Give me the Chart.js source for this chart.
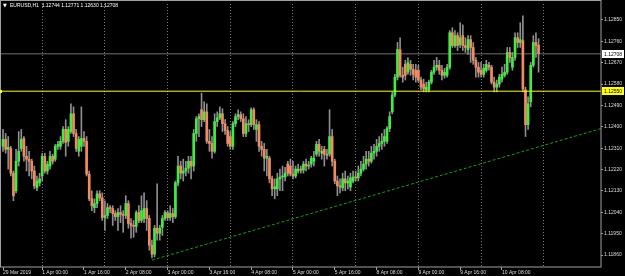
<!DOCTYPE html>
<html>
<head>
<meta charset="utf-8">
<script src="https://cdn.jsdelivr.net/npm/chart.js@4.4.1/dist/chart.umd.min.js"></script>
<style>
  html, body { margin: 0; padding: 0; background: #000; }
  #wrap { width: 625px; height: 276px; }
</style>
</head>
<body>
<div id="wrap"><canvas id="myChart" width="625" height="276"></canvas></div>
<script>
// EURUSD H1 candles, 29 Mar 2019 09:00 .. 10 Apr 2019 22:00
const symbolTitle = 'EURUSD,H1';

const opens = [
  1.12318,1.12347,1.12305,1.12309,1.12205,1.12131,1.12255,1.12309,1.12351,1.12276,
  1.12264,1.12255,1.12214,1.12143,1.12164,1.12193,1.12276,1.12214,1.12235,1.12276,
  1.12264,1.12318,1.12318,1.12339,1.12389,1.12339,1.12380,1.12455,1.12372,1.12297,
  1.12318,1.12351,1.12339,1.12201,1.12097,1.12060,1.12077,1.12118,1.12101,1.12018,
  1.12027,1.12060,1.12056,1.12035,1.12022,1.12039,1.12031,1.12027,1.12077,1.11993,
  1.11985,1.11981,1.12039,1.12006,1.12014,1.12056,1.12014,1.11902,1.11864,1.11973,
  1.11952,1.11977,1.12014,1.12039,1.12018,1.12035,1.12022,1.12164,1.12235,1.12205,
  1.12214,1.12226,1.12255,1.12235,1.12372,1.12434,1.12472,1.12430,1.12463,1.12339,
  1.12330,1.12297,1.12422,1.12438,1.12455,1.12413,1.12384,1.12359,1.12318,1.12413,
  1.12443,1.12451,1.12434,1.12372,1.12413,1.12409,1.12472,1.12389,1.12409,1.12318,
  1.12305,1.12268,1.12268,1.12181,1.12139,1.12139,1.12181,1.12189,1.12189,1.12243,
  1.12235,1.12201,1.12193,1.12214,1.12222,1.12218,1.12243,1.12235,1.12243,1.12255,
  1.12285,1.12326,1.12289,1.12305,1.12285,1.12285,1.12359,1.12255,1.12172,1.12151,
  1.12143,1.12181,1.12164,1.12147,1.12172,1.12189,1.12185,1.12205,1.12222,1.12243,
  1.12264,1.12255,1.12289,1.12297,1.12318,1.12330,1.12339,1.12339,1.12393,1.12463,
  1.12534,1.12609,1.12725,1.12617,1.12663,1.12630,1.12663,1.12642,1.12638,1.12638,
  1.12597,1.12580,1.12555,1.12555,1.12588,1.12630,1.12651,1.12659,1.12638,1.12617,
  1.12617,1.12651,1.12796,1.12742,1.12784,1.12746,1.12784,1.12742,1.12725,1.12767,
  1.12734,1.12680,1.12651,1.12638,1.12621,1.12638,1.12659,1.12651,1.12588,1.12567,
  1.12580,1.12601,1.12617,1.12630,1.12713,1.12651,1.12692,1.12775,1.12755,1.12763,
  1.12555,1.12409,1.12505,1.12659,1.12755,1.12744
];
const highs = [
  1.12389,1.12372,1.12359,1.12318,1.12214,1.12305,1.12380,1.12389,1.12359,1.12318,
  1.12297,1.12264,1.12235,1.12193,1.12205,1.12289,1.12289,1.12255,1.12297,1.12285,
  1.12326,1.12339,1.12359,1.12401,1.12430,1.12401,1.12497,1.12484,1.12389,1.12359,
  1.12484,1.12380,1.12359,1.12214,1.12131,1.12097,1.12131,1.12131,1.12122,1.12089,
  1.12077,1.12068,1.12068,1.12047,1.12056,1.12068,1.12047,1.12110,1.12089,1.12014,
  1.12006,1.12047,1.12068,1.12110,1.12122,1.12089,1.12027,1.11923,1.11985,1.12160,
  1.11985,1.12027,1.12047,1.12047,1.12068,1.12056,1.12172,1.12276,1.12255,1.12264,
  1.12255,1.12276,1.12276,1.12389,1.12443,1.12455,1.12542,1.12505,1.12497,1.12389,
  1.12359,1.12455,1.12463,1.12484,1.12476,1.12430,1.12401,1.12380,1.12422,1.12455,
  1.12472,1.12463,1.12455,1.12443,1.12430,1.12480,1.12480,1.12430,1.12422,1.12339,
  1.12330,1.12305,1.12276,1.12193,1.12181,1.12205,1.12222,1.12235,1.12230,1.12255,
  1.12264,1.12255,1.12235,1.12243,1.12235,1.12255,1.12264,1.12255,1.12276,1.12297,
  1.12339,1.12347,1.12318,1.12318,1.12305,1.12472,1.12389,1.12264,1.12193,1.12181,
  1.12205,1.12214,1.12193,1.12205,1.12214,1.12214,1.12235,1.12255,1.12276,1.12297,
  1.12297,1.12318,1.12326,1.12347,1.12359,1.12372,1.12389,1.12401,1.12463,1.12547,
  1.12621,1.12755,1.12775,1.12651,1.12680,1.12692,1.12680,1.12663,1.12663,1.12659,
  1.12609,1.12601,1.12588,1.12597,1.12638,1.12680,1.12692,1.12680,1.12659,1.12646,
  1.12663,1.12805,1.12817,1.12805,1.12796,1.12838,1.12829,1.12775,1.12784,1.12784,
  1.12755,1.12692,1.12671,1.12671,1.12663,1.12680,1.12671,1.12659,1.12609,1.12597,
  1.12621,1.12651,1.12663,1.12734,1.12734,1.12713,1.12796,1.12796,1.12838,1.12867,
  1.12567,1.12526,1.12671,1.12784,1.12796,1.12771
];
const lows = [
  1.12297,1.12289,1.12222,1.12193,1.12089,1.12122,1.12235,1.12297,1.12255,1.12214,
  1.12193,1.12181,1.12139,1.12131,1.12151,1.12172,1.12205,1.12201,1.12222,1.12243,
  1.12255,1.12305,1.12305,1.12330,1.12276,1.12318,1.12372,1.12359,1.12297,1.12276,
  1.12297,1.12318,1.12193,1.12089,1.12047,1.12039,1.12060,1.12089,1.12006,1.11964,
  1.12014,1.12039,1.11985,1.12006,1.11964,1.11997,1.11956,1.12014,1.11973,1.11931,
  1.11935,1.11956,1.11997,1.11997,1.11997,1.11964,1.11881,1.11848,1.11852,1.11923,
  1.11923,1.11943,1.12006,1.12006,1.12006,1.11997,1.12014,1.12151,1.12181,1.12172,
  1.12193,1.12205,1.12181,1.12214,1.12339,1.12359,1.12401,1.12422,1.12330,1.12297,
  1.12268,1.12289,1.12401,1.12430,1.12380,1.12368,1.12318,1.12305,1.12305,1.12401,
  1.12430,1.12422,1.12359,1.12359,1.12380,1.12401,1.12389,1.12339,1.12297,1.12276,
  1.12214,1.12193,1.12164,1.12110,1.12097,1.12110,1.12131,1.12131,1.12172,1.12193,
  1.12193,1.12181,1.12185,1.12205,1.12205,1.12205,1.12214,1.12222,1.12230,1.12235,
  1.12276,1.12276,1.12264,1.12235,1.12264,1.12276,1.12235,1.12160,1.12110,1.12122,
  1.12131,1.12131,1.12139,1.12131,1.12164,1.12172,1.12172,1.12193,1.12214,1.12222,
  1.12235,1.12247,1.12264,1.12276,1.12297,1.12305,1.12318,1.12330,1.12380,1.12455,
  1.12526,1.12597,1.12609,1.12588,1.12597,1.12621,1.12617,1.12597,1.12588,1.12588,
  1.12555,1.12547,1.12547,1.12547,1.12580,1.12621,1.12638,1.12621,1.12597,1.12605,
  1.12609,1.12642,1.12734,1.12734,1.12721,1.12734,1.12721,1.12713,1.12705,1.12671,
  1.12663,1.12609,1.12609,1.12609,1.12609,1.12630,1.12638,1.12580,1.12547,1.12547,
  1.12567,1.12588,1.12609,1.12621,1.12671,1.12638,1.12680,1.12734,1.12734,1.12547,
  1.12359,1.12389,1.12484,1.12651,1.12692,1.12630
];
const closes = [
  1.12347,1.12305,1.12314,1.12205,1.12110,1.12255,1.12297,1.12347,1.12276,1.12264,
  1.12255,1.12214,1.12151,1.12172,1.12181,1.12276,1.12214,1.12243,1.12276,1.12255,
  1.12318,1.12326,1.12339,1.12389,1.12334,1.12389,1.12455,1.12372,1.12309,1.12347,
  1.12351,1.12339,1.12201,1.12097,1.12068,1.12077,1.12118,1.12101,1.12018,1.12027,
  1.12060,1.12056,1.12035,1.12022,1.12039,1.12031,1.12027,1.12077,1.11993,1.11985,
  1.11981,1.12039,1.12006,1.12047,1.12056,1.12014,1.11902,1.11864,1.11973,1.11952,
  1.11973,1.12014,1.12039,1.12018,1.12035,1.12022,1.12164,1.12235,1.12205,1.12214,
  1.12226,1.12255,1.12235,1.12372,1.12434,1.12443,1.12430,1.12463,1.12339,1.12330,
  1.12297,1.12422,1.12438,1.12455,1.12413,1.12384,1.12330,1.12318,1.12413,1.12443,
  1.12451,1.12434,1.12372,1.12413,1.12409,1.12472,1.12409,1.12409,1.12318,1.12305,
  1.12268,1.12276,1.12181,1.12139,1.12147,1.12181,1.12189,1.12193,1.12205,1.12205,
  1.12201,1.12193,1.12222,1.12222,1.12218,1.12243,1.12235,1.12239,1.12268,1.12268,
  1.12326,1.12297,1.12297,1.12285,1.12280,1.12359,1.12255,1.12172,1.12151,1.12147,
  1.12181,1.12164,1.12172,1.12185,1.12189,1.12185,1.12205,1.12222,1.12243,1.12264,
  1.12255,1.12289,1.12297,1.12318,1.12330,1.12339,1.12359,1.12393,1.12443,1.12534,
  1.12609,1.12725,1.12617,1.12609,1.12617,1.12671,1.12642,1.12621,1.12609,1.12597,
  1.12567,1.12559,1.12567,1.12588,1.12630,1.12651,1.12659,1.12638,1.12617,1.12630,
  1.12651,1.12796,1.12742,1.12784,1.12742,1.12775,1.12742,1.12734,1.12767,1.12734,
  1.12680,1.12651,1.12630,1.12621,1.12646,1.12663,1.12651,1.12588,1.12567,1.12580,
  1.12609,1.12621,1.12630,1.12713,1.12692,1.12692,1.12775,1.12755,1.12767,1.12559,
  1.12409,1.12497,1.12659,1.12755,1.12742,1.12708
];

// axis stuff
const priceTicks = [1.11860, 1.11950, 1.12040, 1.12130, 1.12220, 1.12310,
                    1.12400, 1.12490, 1.12580, 1.12670, 1.12760, 1.12850];
const timeLabels = ['29 Mar 2019', '1 Apr 00:00', '1 Apr 16:00', '2 Apr 08:00', '3 Apr 00:00',
                    '3 Apr 16:00', '4 Apr 08:00', '5 Apr 00:00', '5 Apr 16:00', '8 Apr 08:00',
                    '9 Apr 00:00', '9 Apr 16:00', '10 Apr 08:00'];
const timeLabelBars = [0, 15, 31, 47, 63, 79, 95, 111, 127, 143, 159, 175, 191];
const dayStartBars = [15, 39, 63, 87, 111, 135, 159, 183, 207];

// objects on the chart
const levelPrice = 1.12550;      // yellow horizontal line
const lastPrice = 1.12708;       // bid line
const trendBars = [57, 229];
const trendPrices = [1.11839, 1.12393];

const firstBar = -1.15, lastBar = 228.9;
const bullColor = '#3fee3f', bearColor = '#f48a5f', wickColor = '#8e8e8e';
const txtFont = { family: 'Liberation Sans, Arial, sans-serif', size: 5 };

const barIdx = opens.map((_, i) => i);
const wickData = barIdx.map(i => ({ x: i, y: [lows[i], highs[i]] }));
const bodyData = barIdx.map(i => ({ x: i, y: [opens[i], closes[i]] }));
const bodyColors = barIdx.map(i => closes[i] >= opens[i] ? bullColor : bearColor);
const tickBars = [...new Set([...timeLabelBars, ...dayStartBars])].sort((a, b) => a - b);

const decorPlugin = {
    id: 'decor',
    beforeDraw(chart) {
        const c = chart.ctx;
        c.save();
        c.fillStyle = '#000';
        c.fillRect(0, 0, chart.width, chart.height);
        c.restore();
    },
    afterDraw(chart) {
        const c = chart.ctx;
        const a = chart.chartArea;
        const y = chart.scales.y;
        c.save();
        // frame
        c.strokeStyle = '#a0a0a0';
        c.lineWidth = 1;
        c.strokeRect(0.5, 0.5, a.right - 0.5, a.bottom - 0.5);

        // price boxes on the right axis
        const boxes = [
            { v: levelPrice, bg: '#ffff00', fg: '#000' },
            { v: lastPrice, bg: '#ffffff', fg: '#000' }
        ];
        c.font = `${txtFont.size}px ${txtFont.family}`;
        c.textBaseline = 'middle';
        boxes.forEach(b => {
            const py = Math.round(y.getPixelForValue(b.v));
            c.fillStyle = b.bg;
            c.fillRect(a.right + 1, py - 4, 22, 8);
            c.fillStyle = b.fg;
            c.fillText(b.v.toFixed(5), a.right + 3, py + 0.5);
        });
        // small yellow mark on the left end of the level
        const ly = Math.round(y.getPixelForValue(levelPrice));
        c.fillStyle = '#ffff00';
        c.fillRect(0, ly - 1, 2, 3);

        // header
        c.fillStyle = '#ffffff';
        c.textBaseline = 'middle';
        c.font = `5px DejaVu Sans`;
        c.fillText('\u25BC', 3, 6);
        c.font = `${txtFont.size}px ${txtFont.family}`;
        c.fillText(symbolTitle + '  ' + [opens, highs, lows, closes].map(s => s[s.length - 1].toFixed(5)).join(' '), 10, 6);
        c.restore();
    }
};

const config = {
    type: 'bar',
    data: {
        datasets: [
            {
                type: 'line',
                data: [{ x: firstBar, y: lastPrice }, { x: lastBar, y: lastPrice }],
                borderColor: '#4a4a4a',
                borderWidth: 1.5,
                pointRadius: 0,
                order: 10
            },
            {
                data: wickData,
                backgroundColor: wickColor,
                barThickness: 1,
                grouped: false,
                order: 6
            },
            {
                data: bodyData,
                backgroundColor: bodyColors,
                barThickness: 2,
                minBarLength: 1,
                grouped: false,
                order: 5
            },
            {
                type: 'line',
                data: trendBars.map((b, i) => ({ x: b, y: trendPrices[i] })),
                borderColor: '#12a012',
                borderWidth: 1,
                borderDash: [3, 2],
                pointRadius: 0,
                order: 2
            },
            {
                type: 'line',
                data: [{ x: firstBar, y: levelPrice }, { x: lastBar, y: levelPrice }],
                borderColor: '#ffff00',
                borderWidth: 1,
                pointRadius: 0,
                order: 1
            }
        ]
    },
    options: {
        responsive: false,
        animation: false,
        devicePixelRatio: 1,
        layout: { padding: { top: 1, left: 0, right: 0, bottom: 0 } },
        plugins: {
            legend: { display: false },
            tooltip: { enabled: false }
        },
        scales: {
            x: {
                type: 'linear',
                min: firstBar,
                max: lastBar,
                offset: false,
                grid: {
                    offset: false,
                    drawOnChartArea: true,
                    color: ctx => dayStartBars.includes(ctx.tick.value) ? '#7a7a7a' : 'rgba(0,0,0,0)',
                    tickColor: ctx => timeLabelBars.includes(ctx.tick.value) ? '#a0a0a0' : 'rgba(0,0,0,0)',
                    tickLength: 3,
                    lineWidth: 1
                },
                border: { display: false, dash: [1, 2] },
                ticks: {
                    autoSkip: false,
                    maxRotation: 0,
                    align: 'start',
                    padding: 0,
                    font: txtFont,
                    color: '#dcdcdc',
                    callback: (v) => {
                        const k = timeLabelBars.indexOf(v);
                        return k >= 0 ? timeLabels[k] : '';
                    }
                },
                afterBuildTicks: (s) => { s.ticks = tickBars.map(v => ({ value: v })); },
                afterFit: (s) => { s.height = 9; }
            },
            y: {
                position: 'right',
                beginAtZero: false,
                min: 1.11810,
                max: 1.12917,
                grid: {
                    drawOnChartArea: false,
                    color: '#a0a0a0',
                    tickColor: '#a0a0a0',
                    tickLength: 2
                },
                border: { display: false },
                ticks: {
                    padding: 1,
                    font: txtFont,
                    color: '#dcdcdc',
                    callback: (v) => v.toFixed(5)
                },
                afterBuildTicks: (s) => { s.ticks = priceTicks.map(v => ({ value: v })); },
                afterFit: (s) => { s.width = 24; }
            }
        }
    },
    plugins: [decorPlugin]
};

const ctx = document.querySelector('#myChart').getContext('2d');
new Chart(ctx, config);
</script>
</body>
</html>
